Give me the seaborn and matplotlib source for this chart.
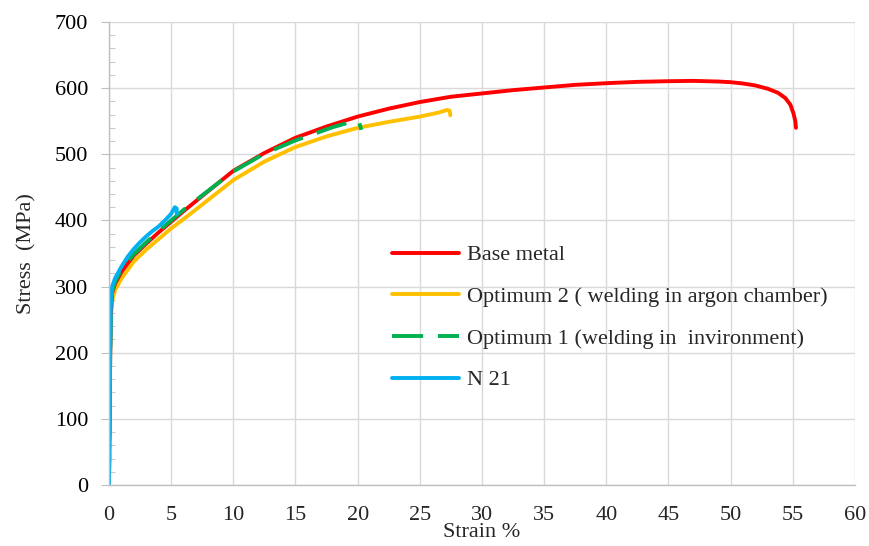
import numpy as np
import pandas as pd
import matplotlib
matplotlib.use("Agg")
import matplotlib.pyplot as plt
from matplotlib.ticker import MultipleLocator
import seaborn as sns

# stress-strain curves
base_strain = [0, 0.05, 0.1, 0.15, 0.25, 0.5, 1.0, 1.5, 2.0, 3.0, 4.0, 5.0, 6.0, 7.5, 10.0,
               12.5, 15.0, 17.5, 20.0, 22.5, 25.0, 27.5, 30.0, 32.5, 35.0, 37.5, 40.0, 42.5,
               45.0, 47.0, 49.0, 50.0, 51.0, 52.0, 53.0, 53.8, 54.4, 54.8, 55.05, 55.2, 55.25]
base_stress = [0, 100, 200, 260, 290, 305, 322, 335, 347, 365, 382, 398, 414, 437, 475,
               502, 525, 542, 557, 569, 579, 587, 592, 597, 601, 605, 607.5, 609.5,
               610.5, 611, 610, 609, 607, 604, 599, 593, 585, 575, 562, 550, 540]

opt2_strain = [0, 0.05, 0.1, 0.2, 0.3, 0.5, 1.0, 2.0, 3.0, 4.0, 5.0, 6.0, 7.5, 10.0, 12.5,
               15.0, 17.5, 20.0, 22.5, 25.0, 26.5, 27.2, 27.4, 27.45]
opt2_stress = [0, 100, 200, 265, 282, 295, 312, 338, 356, 372, 388, 402, 424, 461, 489,
               511, 527, 540, 549, 557, 563, 567, 566, 559]

opt1_strain = [0, 0.05, 0.1, 0.15, 0.25, 0.5, 1.0, 1.5, 2.0, 3.0, 4.0, 5.0, 6.0, 7.5, 10.0,
               12.5, 15.0, 16.5, 18.0, 19.3, 19.85, 20.1, 20.3]
opt1_stress = [0, 100, 200, 265, 292, 308, 326, 338, 349, 367, 384, 400, 416, 438, 474,
               501, 521, 531, 541, 548, 551, 549, 537]

n21_strain = [0, 0.05, 0.1, 0.15, 0.25, 0.5, 1.0, 1.5, 2.0, 2.5, 3.0, 3.5, 4.0, 4.5, 5.0,
              5.3, 5.45, 5.45]
n21_stress = [0, 100, 200, 270, 300, 313, 330, 345, 357, 367, 376, 384, 391, 400, 410,
              420, 418, 410]

labels = ["Optimum 2 ( welding in argon chamber)", "Base metal",
          "Optimum 1 (welding in  invironment)", "N 21"]
colors = {"Base metal": "#FF0000",
          "Optimum 2 ( welding in argon chamber)": "#FFC000",
          "Optimum 1 (welding in  invironment)": "#00B050",
          "N 21": "#00B0F0"}

FS = 16

sns.set_style("white")
plt.rcParams['font.family'] = ['Liberation Serif', 'DejaVu Serif']
plt.rcParams['font.size'] = FS

fig, ax = plt.subplots(figsize=(8.69, 5.46), dpi=100)
fig.subplots_adjust(left=0.1254, right=0.9839, top=0.9597, bottom=0.1117)

series = {
    "Optimum 2 ( welding in argon chamber)": (opt2_strain, opt2_stress),
    "Base metal": (base_strain, base_stress),
    "Optimum 1 (welding in  invironment)": (opt1_strain, opt1_stress),
    "N 21": (n21_strain, n21_stress),
}

lines = {}
for name in labels:
    sx, sy = series[name]
    df = pd.DataFrame({"Strain": sx, "Stress": sy})
    sns.lineplot(data=df, x="Strain", y="Stress", sort=False, estimator=None,
                 color=colors[name], linewidth=2.8, ax=ax, label=name)
    ln = ax.get_lines()[-1]
    ln.set_solid_capstyle("round")
    if name.startswith("Optimum 1"):
        ln.set_dashes((8, 3.8))
        ln.set_dash_capstyle("butt")
    lines[name] = ln

ax.set_xlim(0, 60)
ax.set_ylim(0, 700)
ax.xaxis.set_major_locator(MultipleLocator(5))
ax.yaxis.set_major_locator(MultipleLocator(100))
ax.yaxis.set_minor_locator(MultipleLocator(20))
ax.grid(True, which="major", color="#D9D9D9", linewidth=1.0)
ax.set_axisbelow(True)

for s in ["top", "right"]:
    ax.spines[s].set_visible(False)
for s in ["left", "bottom"]:
    ax.spines[s].set_color("#BFBFBF")
    ax.spines[s].set_linewidth(1.0)

ax.tick_params(axis="y", which="major", direction="out", length=6, color="#BFBFBF",
               labelsize=FS, labelcolor="#000000", pad=9, left=True)
ax.tick_params(axis="y", which="minor", direction="in", length=4, color="#BFBFBF", left=True)
ax.tick_params(axis="x", which="major", length=0, labelsize=FS, pad=15)

ax.set_xlabel("Strain %", fontsize=FS, labelpad=-1)
ax.set_ylabel("Stress  (MPa)", fontsize=FS, labelpad=13)

order = ["Base metal", "Optimum 2 ( welding in argon chamber)",
         "Optimum 1 (welding in  invironment)", "N 21"]
leg = ax.legend([lines[n] for n in order], order, loc="upper left",
                bbox_to_anchor=(0.353, 0.562), frameon=False, handlelength=3.0,
                handletextpad=0.38, labelspacing=0.95, fontsize=FS)

fig.savefig("out.png", dpi=100)
